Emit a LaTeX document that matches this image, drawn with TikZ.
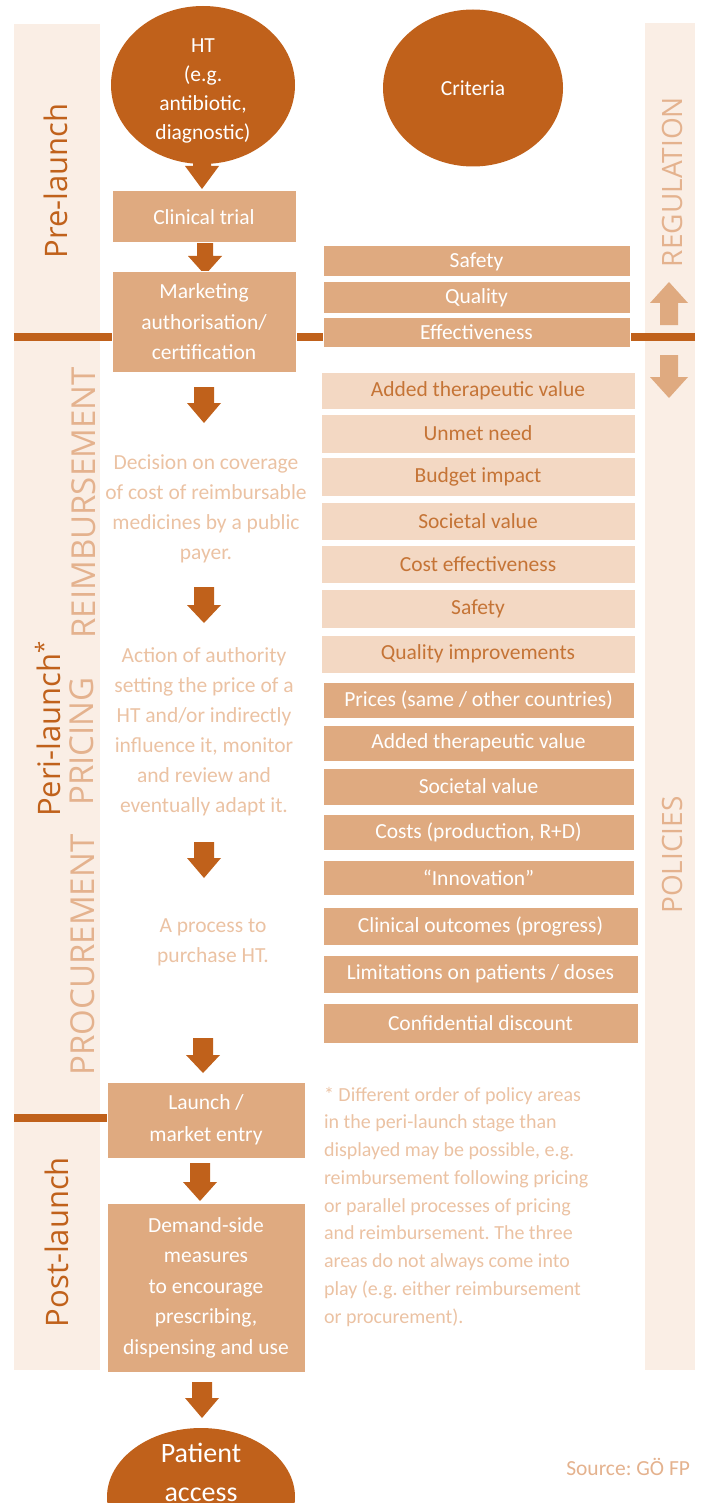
\documentclass[tikz,border=0pt]{standalone}
\usepackage{fontspec}
\setmainfont{Carlito}
\newfontfamily\osans{Open Sans}
\usetikzlibrary{shapes.geometric}
\definecolor{dk}{RGB}{192,97,27}
\definecolor{md}{RGB}{223,170,128}
\definecolor{lt}{RGB}{243,216,195}
\definecolor{band}{RGB}{250,238,229}
\definecolor{desc}{RGB}{235,194,163}
\definecolor{boxtxt}{RGB}{197,116,54}
\definecolor{captxt}{RGB}{228,178,142}
\newcommand\blockarrow[7]{\fill[#7] (#1-#5,#2) -- (#1+#5,#2) -- (#1+#5,#3) -- (#1+#6,#3) -- (#1,#4) -- (#1-#6,#3) -- (#1-#5,#3) -- cycle;}
\frenchspacing
\begin{document}
\begin{tikzpicture}[x=1pt,y=-1pt,
  every node/.style={inner sep=0pt,outer sep=0pt},
  circ/.style={ellipse,fill=dk},
  circtext/.style={text=white,align=center,font=\fontsize{21.5}{29}\selectfont},
  midbox/.style={rectangle,fill=md,draw=white,line width=1pt,text=white,align=center,font=\fontsize{21.5}{30.5}\selectfont},
  crit/.style={rectangle,fill=md,draw=white,line width=1pt,text=white,align=center,font=\fontsize{21.5}{26}\selectfont},
  critlt/.style={crit,fill=lt,text=boxtxt},
  desctext/.style={text=desc,align=center,font=\fontsize{21.5}{30}\selectfont},
  phase/.style={rotate=90,text=dk,font=\osans\fontsize{31}{36}\selectfont},
  area/.style={rotate=90,text=captxt,font=\osans\fontsize{33}{38}\selectfont},
  side/.style={rotate=90,text=captxt,font=\osans\fontsize{28}{32}\selectfont},
  bar/.style={draw=dk,line width=8.5pt}
]
\useasboundingbox (0,0) rectangle (701,1503);
\clip (0,0) rectangle (701,1503);
% bands
\fill[band] (14,24) rectangle (100,1370);
\fill[band] (645,23) rectangle (695,1370);
% stage lines
\coordinate (l1a) at (14,337);
\coordinate (l1b) at (695,337);
\coordinate (l2a) at (14,1118);
\draw[bar] (l1a) -- (l1b);
% vertical labels
\node[phase] (pre) at (56,181) {Pre-launch};
\node[phase] (peri) at (49,735) {Peri-launch\rlap{\smash{\raisebox{9pt}{\fontsize{22}{22}\selectfont *}}}};
\node[phase] (post) at (57,1242) {Post-launch};
\node[area] (reimb) at (83.5,503) {REIMBURSEMENT};
\node[area] (pric) at (82,741.5) {PRICING};
\node[area] (proc) at (83,955) {PROCUREMENT};
\node[side] (reg) at (672,182) {REGULATION};
\node[side] (pol) at (672,855) {POLICIES};
% regulation arrows
\blockarrow{669}{325}{303}{282}{9}{19}{md}
\blockarrow{669}{355}{377}{398}{9}{19}{md}
% circles
\node[circ,minimum width=184pt,minimum height=158pt] (ht) at (203,85) {};
\node[circtext] (httext) at ([yshift=-6pt]ht.center) {HT\\(e.g.\\antibiotic,\\diagnostic)};
\node[circ,minimum width=180pt,minimum height=157pt] (criteria) at (473,88) {};
\node[circtext] (crittext) at (criteria.center) {Criteria};
% arrows of the main column
\blockarrow{202}{150}{166}{189}{9}{17}{dk}
\blockarrow{205}{243}{256}{275}{8}{17}{dk}
\blockarrow{204}{387}{403}{423}{10}{17}{dk}
\blockarrow{204}{587}{605}{623}{10}{17}{dk}
\blockarrow{204}{842}{858}{878}{10}{17}{dk}
\blockarrow{203}{1038}{1055}{1073}{10}{17}{dk}
\blockarrow{200}{1163}{1182}{1201}{10}{17}{dk}
\blockarrow{202}{1382}{1398}{1418}{10}{17}{dk}
% main column
\node[midbox,minimum width=184pt,minimum height=52pt] (ct) at (204,217) {Clinical trial};
\node[midbox,minimum width=184pt,minimum height=100pt] (ma) at (204,322) {Marketing\\authorisation/\\certification};
\node[desctext] (dec) at (206,509) {Decision on coverage\\of cost of reimbursable\\medicines by a public\\payer.};
\node[desctext] (act) at (204,732) {Action of authority\\setting the price of a\\HT and/or indirectly\\influence it, monitor\\and review and\\eventually adapt it.};
\node[desctext] (pur) at (213,942) {A process to\\purchase HT.};
\node[midbox,minimum width=198pt,minimum height=76pt,font=\fontsize{21.5}{32}\selectfont] (launch) at (206,1120) {Launch /\\market entry};
\draw[bar] (l2a) -- (l2a -| launch.west);
\node[midbox,minimum width=198pt,minimum height=169pt] (dem) at (206,1287.5) {Demand-side\\measures\\to encourage\\prescribing,\\dispensing and use};
\node[circ,minimum width=188pt,minimum height=138pt] (pat) at (201,1497) {};
\node[circtext,font=\fontsize{28}{39}\selectfont] (pattext) at ([yshift=25pt]pat.center) {Patient\\access};
% criteria: regulation
\node[crit,minimum width=307pt,minimum height=31pt] (c1) at (476.5,261.5) {Safety};
\node[crit,minimum width=307pt,minimum height=31pt] (c2) at (476.5,297.5) {Quality};
\node[crit,minimum width=307pt,minimum height=30pt] (c3) at (476.5,332) {Effectiveness};
% criteria: reimbursement
\node[critlt,minimum width=314pt,minimum height=37pt] (r1) at (478,390.5) {Added therapeutic value};
\node[critlt,minimum width=314pt,minimum height=39pt] (r2) at (478,433.5) {Unmet need};
\node[critlt,minimum width=314pt,minimum height=39pt] (r3) at (478,476.5) {Budget impact};
\node[critlt,minimum width=314pt,minimum height=38pt] (r4) at (478,521) {Societal value};
\node[critlt,minimum width=314pt,minimum height=38pt] (r5) at (478,564) {Cost effectiveness};
\node[critlt,minimum width=314pt,minimum height=39pt] (r6) at (478,608.5) {Safety};
\node[critlt,minimum width=314pt,minimum height=38pt] (r7) at (478,654) {Quality improvements};
% criteria: pricing
\node[crit,minimum width=311pt,minimum height=36pt] (p1) at (478.5,700) {Prices (same / other countries)};
\node[crit,minimum width=311pt,minimum height=36pt] (p2) at (478.5,743) {Added therapeutic value};
\node[crit,minimum width=311pt,minimum height=37pt] (p3) at (478.5,786.5) {Societal value};
\node[crit,minimum width=311pt,minimum height=36pt] (p4) at (478.5,832) {Costs (production, R+D)};
\node[crit,minimum width=311pt,minimum height=35pt] (p5) at (478.5,877.5) {“Innovation”};
% criteria: procurement
\node[crit,minimum width=315pt,minimum height=38pt] (q1) at (480.5,926) {Clinical outcomes (progress)};
\node[crit,minimum width=315pt,minimum height=38pt] (q2) at (480.5,974) {Limitations on patients / doses};
\node[crit,minimum width=315pt,minimum height=40pt] (q3) at (480.5,1023) {Confidential discount};
% footnote and source
\node[anchor=north west,text=desc,align=left,font=\fontsize{20}{27.75}\selectfont] (note) at (324,1087) {* Different order of policy areas\\in the peri-launch stage than\\displayed may be possible, e.g.\\reimbursement following pricing\\or parallel processes of pricing\\and reimbursement. The three\\areas do not always come into\\play (e.g. either reimbursement\\or procurement).};
\node[anchor=east,text=captxt,font=\fontsize{21.5}{26}\selectfont] (src) at (690,1467) {Source: GÖ FP};
\end{tikzpicture}
\end{document}
